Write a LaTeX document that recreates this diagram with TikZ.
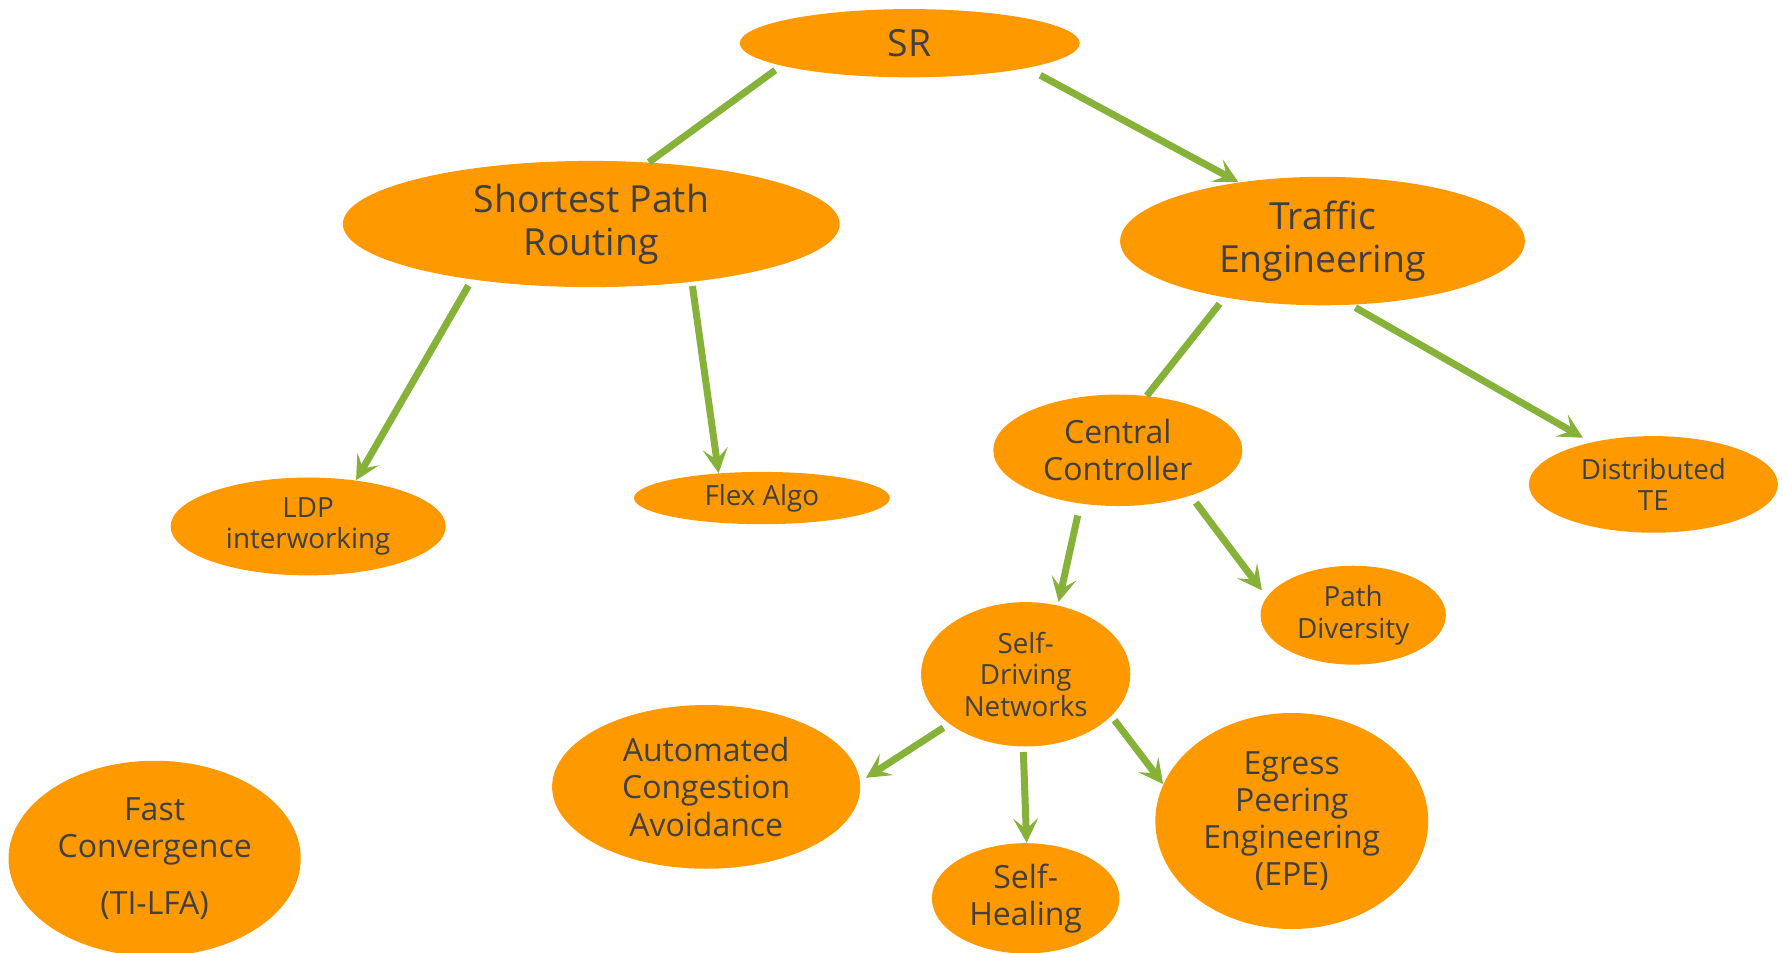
\documentclass[tikz,border=0pt]{standalone}
\usepackage{fontspec}
\setmainfont{Open Sans}
\usepackage{tikz}
\usetikzlibrary{shapes.geometric, positioning, arrows.meta}

\definecolor{srorange}{HTML}{FF9900}
\definecolor{srgreen}{HTML}{86B23A}
\definecolor{srtext}{HTML}{404040}
\newcommand{\bigtxt}{\fontsize{18.7}{21.5}\selectfont}
\newcommand{\midtxt}{\fontsize{16}{18.6}\selectfont}
\newcommand{\smalltxt}{\fontsize{13.9}{15.8}\selectfont}

\begin{document}
\begin{tikzpicture}[x=0.02cm, y=-0.02cm,
  topic/.style={ellipse, fill=srorange, text=srtext, inner sep=0pt,
    align=center},
  link/.style={draw=srgreen, line width=3.5pt},
  arrowlink/.style={link, -{Stealth[length=0.43cm, width=0.44cm,
    inset=0.19cm]}}]
      \useasboundingbox (0,0) rectangle (1568,838);%

      % root
      \node [topic, font=\bigtxt, minimum width=5.98cm, minimum height=1.2cm]
      (SR) at (800,38) {SR};%

      % second level
      \node [topic, font=\bigtxt, minimum width=8.74cm, minimum height=2.22cm]
      (SPR) at (520,197) {Shortest Path\\Routing};%
      \node [topic, font=\bigtxt, minimum width=7.12cm, minimum height=2.26cm]
      (TE) at (1163,212) {Traffic\\Engineering};%

      % under shortest path
      \node [topic, font=\smalltxt, minimum width=4.84cm, minimum height=1.72cm]
      (LDP) at (271,463) {LDP\\interworking};%
      \node [topic, font=\smalltxt, minimum width=4.5cm, minimum height=0.92cm]
      (Flex) at (670,438) {Flex Algo};%

      % under traffic engineering
      \node [topic, font=\midtxt, minimum width=4.38cm, minimum height=1.96cm]
      (CC) at (983,396) {Central\\Controller};%
      \node [topic, font=\smalltxt, minimum width=4.38cm, minimum height=1.7cm]
      (DTE) at (1454,426) {Distributed\\TE};%

      % under central controller
      \node [topic, font=\smalltxt, minimum width=3.68cm, minimum height=2.54cm]
      (SDN) at (902,593) {Self-\\Driving\\Networks};%
      \node [topic, font=\smalltxt, minimum width=3.26cm, minimum height=1.74cm]
      (PD) at (1190,541) {Path\\Diversity};%

      % under self-driving
      \node [topic, font=\midtxt, minimum width=5.42cm, minimum height=2.88cm]
      (ACA) at (621,692) {Automated\\Congestion\\Avoidance};%
      \node [topic, font=\midtxt, minimum width=3.3cm, minimum height=1.94cm]
      (SH) at (902,790) {Self-\\Healing};%
      \node [topic, font=\midtxt, minimum width=4.8cm, minimum height=3.8cm]
      (EPE) at (1136,722) {Egress\\Peering\\Engineering\\(EPE)};%

      % alone
      \node [topic, font=\midtxt, minimum width=5.14cm, minimum height=3.44cm]
      (FC) at (136,755) {Fast\\Convergence\\[10pt](TI-LFA)};%

      % arrows
      \draw [link, shorten <=0.13cm] (SR.190) -- (SPR.47);%
      \draw [arrowlink, shorten <=0.26cm] (SR.348) -- (TE.145);%

      \draw [arrowlink, shorten <=0.12cm] (SPR.205) -- (LDP.44);%
      \draw [arrowlink, shorten <=0.07cm] (SPR.330) -- (Flex.150);%

      \draw [link, shorten <=0.14cm] (TE.210) -- (CC.62);%
      \draw [arrowlink, shorten <=0.09cm, shorten >=0.16cm] (TE.294) --
      (DTE.146);%

      \draw [arrowlink, shorten <=0.21cm, shorten >=0.06cm] (CC.235) --
      (SDN.65);%
      \draw [arrowlink, shorten <=0.15cm, shorten >=0.14cm] (CC.328) --
      (PD.168);%

      \draw [arrowlink, shorten <=0.12cm, shorten >=0.12cm] (SDN.213) --
      (ACA.2);%
      \draw [arrowlink, shorten <=0.09cm] (SDN.268) -- (SH.89);%
      \draw [arrowlink, shorten <=0.09cm] (SDN.334) -- (EPE.164);%
    \end{tikzpicture}
\end{document}
